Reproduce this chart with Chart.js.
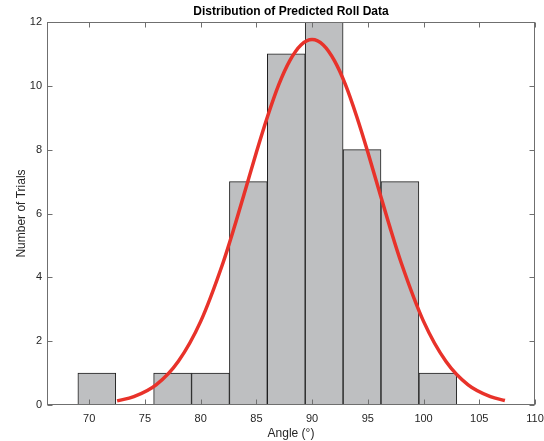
<!DOCTYPE html>
<html>
<head>
<meta charset="utf-8">
<script src="https://cdn.jsdelivr.net/npm/chart.js@4/dist/chart.umd.min.js"></script>
<style>
  html, body { margin: 0; padding: 0; background: #ffffff; }
  #wrap { width: 544px; height: 441px; }
</style>
</head>
<body>
<div id="wrap"><canvas id="chart" width="544" height="441"></canvas></div>
<script>
// Histogram bins (centres, degrees) and counts per bin
const binCenters = [70.68, 74.08, 77.48, 80.88, 84.28, 87.68, 91.08, 94.48, 97.88, 101.28];
const binCounts  = [1, 0, 1, 1, 7, 11, 12, 8, 7, 1];

// Fitted distribution curve, sampled points (angle, trials)
const fitX = [72.5, 74, 76, 78, 80, 82, 83, 84, 85, 86, 87, 88, 89, 90, 91, 92, 93, 94, 95, 96, 97, 98, 100, 102, 104, 106, 107.3];
const fitY = [0.13, 0.26, 0.63, 1.37, 2.62, 4.45, 5.55, 6.73, 7.92, 9.04, 10.03, 10.79, 11.28, 11.45, 11.28, 10.79, 10.03, 9.04, 7.92, 6.73, 5.55, 4.45, 2.62, 1.37, 0.63, 0.26, 0.14];

// Axis ticks
const xTickValues = [70, 75, 80, 85, 90, 95, 100, 105, 110];
const yTickValues = [0, 2, 4, 6, 8, 10, 12];

const FONT = '"Liberation Sans", Arial, Helvetica, sans-serif';
const AXIS_COLOR = '#6f6f6f';
const TEXT_COLOR = '#262626';

// Box around the plot area with inward tick marks on all four sides
const boxPlugin = {
  id: 'axesBox',
  afterDraw(chart) {
    const { ctx, chartArea: a, scales } = chart;
    ctx.save();
    ctx.strokeStyle = AXIS_COLOR;
    ctx.lineWidth = 1;
    const L = Math.round(a.left) + 0.5, R = Math.round(a.right) - 0.5;
    const T = Math.round(a.top) + 0.5, B = Math.round(a.bottom) - 0.5;
    ctx.strokeRect(L, T, R - L, B - T);
    const len = 5;
    ctx.beginPath();
    xTickValues.forEach(v => {
      const px = Math.round(scales.x.getPixelForValue(v)) + 0.5;
      ctx.moveTo(px, B); ctx.lineTo(px, B - len);
      ctx.moveTo(px, T); ctx.lineTo(px, T + len);
    });
    yTickValues.forEach(v => {
      const py = Math.round(scales.y.getPixelForValue(v)) + 0.5;
      ctx.moveTo(L, py); ctx.lineTo(L + len, py);
      ctx.moveTo(R, py); ctx.lineTo(R - len, py);
    });
    ctx.stroke();
    ctx.restore();
  }
};

new Chart(document.getElementById('chart'), {
  type: 'bar',
  data: {
    datasets: [
      {
        type: 'line',
        data: fitX.map((x, i) => ({ x: x, y: fitY[i] })),
        borderColor: '#e8322a',
        borderWidth: 3.5,
        pointRadius: 0,
        fill: false,
        cubicInterpolationMode: 'monotone',
        order: 0
      },
      {
        type: 'bar',
        data: binCenters.map((x, i) => ({ x: x, y: binCounts[i] })),
        backgroundColor: '#bebfc1',
        borderColor: '#1e1e1e',
        borderWidth: 1,
        borderSkipped: false,
        barPercentage: 1.0,
        categoryPercentage: 1.0,
        order: 1
      }
    ]
  },
  options: {
    responsive: false,
    animation: false,
    devicePixelRatio: 1,
    layout: { padding: { left: 0, right: 0, top: 0, bottom: 0 } },
    plugins: {
      legend: { display: false },
      tooltip: { enabled: false },
      title: {
        display: true,
        text: 'Distribution of Predicted Roll Data',
        fullSize: false,
        color: '#000000',
        font: { family: FONT, size: 12, weight: 'bold', lineHeight: 1.2 },
        padding: { top: 4, bottom: 3.6 }
      }
    },
    scales: {
      x: {
        type: 'linear',
        min: 66.21,
        max: 110,
        offset: false,
        afterBuildTicks: s => { s.ticks = xTickValues.map(v => ({ value: v })); },
        afterFit: s => { s.height = 36; s.paddingLeft = 0; s.paddingRight = 9; },
        grid: { display: false, drawTicks: false },
        border: { display: false },
        ticks: {
          color: TEXT_COLOR,
          font: { family: FONT, size: 11 },
          padding: 7,
          maxRotation: 0,
          autoSkip: false
        },
        title: {
          display: true,
          text: 'Angle (°)',
          color: TEXT_COLOR,
          font: { family: FONT, size: 12 },
          padding: { top: 2, bottom: 0 }
        }
      },
      y: {
        type: 'linear',
        min: 0,
        max: 12,
        afterBuildTicks: s => { s.ticks = yTickValues.map(v => ({ value: v })); },
        afterFit: s => { s.width = 47; },
        grid: { display: false, drawTicks: false },
        border: { display: false },
        ticks: {
          color: TEXT_COLOR,
          font: { family: FONT, size: 11 },
          padding: 5
        },
        title: {
          display: true,
          text: 'Number of Trials',
          color: TEXT_COLOR,
          font: { family: FONT, size: 12 },
          padding: { top: 14, bottom: 0 }
        }
      }
    }
  },
  plugins: [boxPlugin]
});
</script>
</body>
</html>
